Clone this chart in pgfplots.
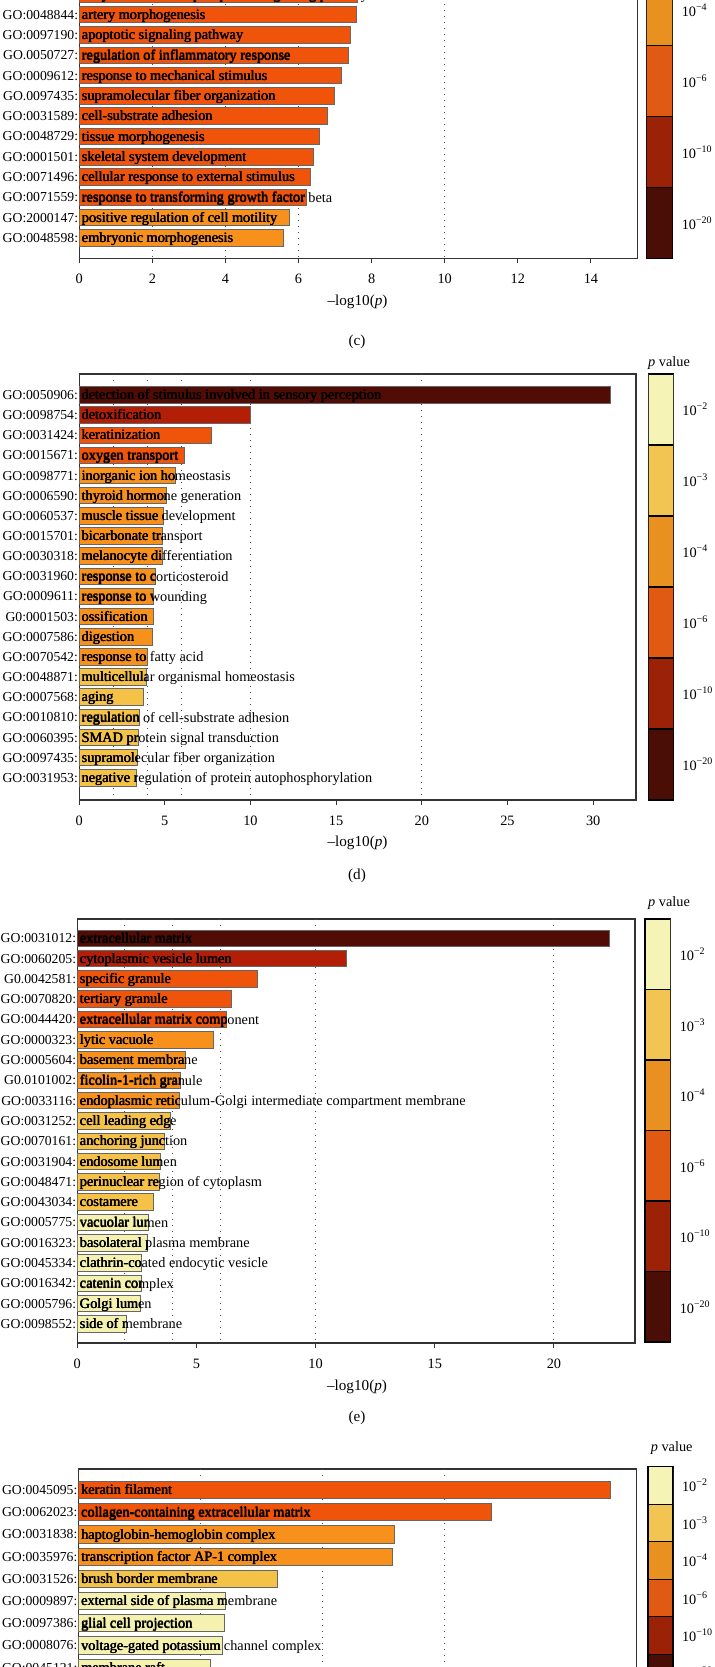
\documentclass[border=0pt]{standalone}
\usepackage{pgfplots}
\pgfplotsset{compat=1.18}
\usepackage{fontspec}
\setmainfont{Liberation Serif}

\definecolor{b20}{RGB}{80,12,5}
\definecolor{b10}{RGB}{178,30,6}
\definecolor{b6}{RGB}{240,84,10}
\definecolor{b4}{RGB}{248,144,28}
\definecolor{b3}{RGB}{245,194,72}
\definecolor{b2}{RGB}{245,242,176}
\definecolor{k20}{RGB}{74,14,6}
\definecolor{k10}{RGB}{155,34,6}
\definecolor{k6}{RGB}{224,90,20}
\definecolor{k4}{RGB}{232,144,32}
\definecolor{k3}{RGB}{242,196,82}
\definecolor{k2}{RGB}{245,243,182}

\newcommand\fs{\fontsize{7.15pt}{8pt}\selectfont}
\newcommand\fsid{\fontsize{6.85pt}{8pt}\selectfont}
\newcommand\fsl{\fontsize{7.6pt}{9pt}\selectfont}

\tikzset{lbl/.style={anchor=base west, inner xsep=1pt, inner ysep=0pt, font=\fs, yshift=-2.35pt}}

\pgfplotsset{
  gobar/.style={
    scale only axis, anchor=south west, y dir=reverse, xmin=0,
    axis line style={draw=black!80, line width=0.55pt},
    tick align=outside, xtick pos=left, major tick length=2.5pt,
    xtick style={draw=black!80, line width=0.5pt},
    ytick style={draw=none},
    tick label style={font=\fs},
    xticklabel style={yshift=-2pt},
    yticklabel style={font=\fsid, inner xsep=0.4pt, xshift=2.5pt},
    /pgf/number format/assume math mode=true,
    extra x tick labels={},
    extra x tick style={grid=major, major tick length=0pt},
    major grid style={dash pattern=on 0.6pt off 2.4pt, draw=black!70, line width=0.5pt},
  },
  gob/.style={xbar, bar width=8.25pt, bar shift=0pt, draw=black!60, line width=0.5pt},
  cbar/.style={
    scale only axis, anchor=south west, xmin=0, xmax=1, ymin=0, ymax=6, y dir=reverse,
    xtick=\empty, ytick={0.5,1.5,2.5,3.5,4.5,5.5},
    yticklabels={10\textsuperscript{−2},10\textsuperscript{−3},10\textsuperscript{−4},10\textsuperscript{−6},10\textsuperscript{−10},10\textsuperscript{−20}},
    yticklabel pos=right, ytick style={draw=none},
    axis line style={draw=black, line width=0.7pt},
    tick label style={font=\fs}, yticklabel style={xshift=1pt},
  },
  seg/.style={draw=black, line width=0.7pt},
}

\newcommand{\cbarsegs}{%
  \addplot[seg, fill=k2] coordinates {(0,0) (1,0) (1,1) (0,1) (0,0)};
  \addplot[seg, fill=k3] coordinates {(0,1) (1,1) (1,2) (0,2) (0,1)};
  \addplot[seg, fill=k4] coordinates {(0,2) (1,2) (1,3) (0,3) (0,2)};
  \addplot[seg, fill=k6] coordinates {(0,3) (1,3) (1,4) (0,4) (0,3)};
  \addplot[seg, fill=k10] coordinates {(0,4) (1,4) (1,5) (0,5) (0,4)};
  \addplot[seg, fill=k20] coordinates {(0,5) (1,5) (1,6) (0,6) (0,5)};
}

\newcommand{\barlabels}[2]{%
  \foreach \idx/\val/\txt in #1 {%
    \pgfmathsetmacro\ya{\idx-#2}%
    \pgfmathsetmacro\yb{\idx+#2}%
    \edef\tmp{\noexpand\node[lbl] at (axis cs:0,\idx) {\txt};%
      \noexpand\pgfplotsextra{\noexpand\begin{scope}%
        \noexpand\clip (axis cs:0,\ya) rectangle (axis cs:\val,\yb);%
        \noexpand\node[lbl,xshift=0.25pt] at (axis cs:0,\idx) {\txt};%
        \noexpand\node[lbl,xshift=0.12pt,yshift=0.1pt] at (axis cs:0,\idx) {\txt};%
      \noexpand\end{scope}}}%
    \tmp
  }%
}

\def\rowsC{-1/7.61/enzyme linked receptor protein signaling pathway,0/7.59/artery morphogenesis,1/7.41/apoptotic signaling pathway,2/7.36/regulation of inflammatory response,3/7.17/response to mechanical stimulus,4/6.98/supramolecular fiber organization,5/6.80/cell-substrate adhesion,6/6.56/tissue morphogenesis,7/6.41/skeletal system development,8/6.33/cellular response to external stimulus,9/6.23/response to transforming growth factor beta,10/5.76/positive regulation of cell motility,11/5.59/embryonic morphogenesis}

\def\rowsD{0/31.0/detection of stimulus involved in sensory perception,1/10.02/detoxification,2/7.72/keratinization,3/6.14/oxygen transport,4/5.64/inorganic ion homeostasis,5/5.11/thyroid hormone generation,6/4.90/muscle tissue development,7/4.86/bicarbonate transport,8/4.84/melanocyte differentiation,9/4.47/response to corticosteroid,10/4.35/response to wounding,11/4.33/ossification,12/4.26/digestion,13/3.98/response to fatty acid,14/3.96/multicellular organismal homeostasis,15/3.77/aging,16/3.50/regulation of cell-substrate adhesion,17/3.44/SMAD protein signal transduction,18/3.41/supramolecular fiber organization,19/3.36/negative regulation of protein autophosphorylation}

\def\rowsE{0/22.33/extracellular matrix,1/11.30/cytoplasmic vesicle lumen,2/7.57/specific granule,3/6.49/tertiary granule,4/6.25/extracellular matrix component,5/5.72/lytic vacuole,6/4.53/basement membrane,7/4.31/ficolin-1-rich granule,8/4.28/endoplasmic reticulum-Golgi intermediate compartment membrane,9/3.90/cell leading edge,10/3.67/anchoring junction,11/3.47/endosome lumen,12/3.44/perinuclear region of cytoplasm,13/3.21/costamere,14/2.98/vacuolar lumen,15/2.94/basolateral plasma membrane,16/2.69/clathrin-coated endocytic vesicle,17/2.69/catenin complex,18/2.64/Golgi lumen,19/2.07/side of membrane}

\def\rowsF{0/8.73/keratin filament,1/6.77/collagen-containing extracellular matrix,2/5.18/haptoglobin-hemoglobin complex,3/5.15/transcription factor AP-1 complex,4/3.27/brush border membrane,5/2.41/external side of plasma membrane,6/2.39/glial cell projection,7/2.37/voltage-gated potassium channel complex,8/2.16/membrane raft}

\begin{document}
\begin{tikzpicture}
\useasboundingbox (0,0) rectangle (357pt,-833.5pt);
\clip (0,0) rectangle (357pt,-833.5pt);

% ---------------- panel (c)
\begin{axis}[gobar, at={(39.65pt,-129.15pt)}, width=279.2pt, height=142.1pt,
  xmax=15.28, ymin=-2, ymax=12, xtick={0,2,...,14}, extra x ticks={2,4,6,10},
  ytick={-1,0,...,11},
  yticklabels={GO:0007167:,GO:0048844:,GO:0097190:,GO.0050727:,GO:0009612:,GO.0097435:,GO:0031589:,GO:0048729:,GO:0001501:,GO:0071496:,GO:0071559:,GO:2000147:,GO:0048598:}]
\addplot[gob, fill=b6] coordinates {(7.61,-1) (7.59,0) (7.41,1) (7.36,2) (7.17,3) (6.98,4) (6.80,5) (6.56,6) (6.41,7) (6.33,8) (6.23,9)};
\addplot[gob, fill=b4] coordinates {(5.76,10) (5.59,11)};
\barlabels{\rowsC}{0.41}
\end{axis}
\begin{axis}[cbar, at={(323.35pt,-129.15pt)}, width=13pt, height=213pt]
\cbarsegs
\end{axis}
\node[font=\fsl] at (178.75pt,-150.85pt) {–log10(\textit{p})};
\node[font=\fsl] at (178.5pt,-171pt) {(c)};

% ---------------- panel (d)
\begin{axis}[gobar, at={(39.55pt,-400pt)}, width=278.45pt, height=213pt,
  xmax=32.5, ymin=-1.04, ymax=20.1, xtick={0,5,...,30}, extra x ticks={2,4,6,10,20},
  ytick={0,...,19},
  yticklabels={GO:0050906:,GO:0098754:,GO:0031424:,GO:0015671:,GO:0098771:,GO:0006590:,GO:0060537:,GO:0015701:,GO:0030318:,GO:0031960:,GO:0009611:,G0:0001503:,GO:0007586:,GO:0070542:,GO:0048871:,GO:0007568:,GO:0010810:,GO:0060395:,GO:0097435:,GO:0031953:}]
\addplot[gob, fill=b20] coordinates {(31.0,0)};
\addplot[gob, fill=b10] coordinates {(10.02,1)};
\addplot[gob, fill=b6] coordinates {(7.72,2) (6.14,3)};
\addplot[gob, fill=b4] coordinates {(5.64,4) (5.11,5) (4.90,6) (4.86,7) (4.84,8) (4.47,9) (4.35,10) (4.33,11) (4.26,12) (3.98,13)};
\addplot[gob, fill=b3] coordinates {(3.96,14) (3.77,15) (3.50,16) (3.44,17) (3.41,18) (3.36,19)};
\barlabels{\rowsD}{0.41}
\end{axis}
\begin{axis}[cbar, at={(324.15pt,-400pt)}, width=12.5pt, height=213pt]
\cbarsegs
\end{axis}
\node[font=\fs] at (334.5pt,-181.5pt) {\textit{p} value};
\node[font=\fsl] at (178.75pt,-421.5pt) {–log10(\textit{p})};
\node[font=\fsl] at (178.5pt,-438pt) {(d)};

% ---------------- panel (e)
\begin{axis}[gobar, at={(38.65pt,-671.5pt)}, width=278.85pt, height=212pt,
  xmax=23.4, ymin=-0.95, ymax=19.94, xtick={0,5,...,20}, extra x ticks={2,4,6,10,20},
  ytick={0,...,19},
  yticklabels={GO:0031012:,GO:0060205:,G0.0042581:,GO:0070820:,GO:0044420:,GO:0000323:,GO:0005604:,G0.0101002:,GO:0033116:,GO:0031252:,GO:0070161:,GO:0031904:,GO:0048471:,GO:0043034:,GO:0005775:,GO:0016323:,GO:0045334:,GO:0016342:,GO:0005796:,GO:0098552:}]
\addplot[gob, fill=b20] coordinates {(22.33,0)};
\addplot[gob, fill=b10] coordinates {(11.30,1)};
\addplot[gob, fill=b6] coordinates {(7.57,2) (6.49,3) (6.25,4)};
\addplot[gob, fill=b4] coordinates {(5.72,5) (4.53,6) (4.31,7) (4.28,8)};
\addplot[gob, fill=b3] coordinates {(3.90,9) (3.67,10) (3.47,11) (3.44,12) (3.21,13)};
\addplot[gob, fill=b2] coordinates {(2.98,14) (2.94,15) (2.69,16) (2.69,17) (2.64,18) (2.07,19)};
\barlabels{\rowsE}{0.41}
\end{axis}
\begin{axis}[cbar, at={(322.5pt,-671pt)}, width=12.85pt, height=211.5pt]
\cbarsegs
\end{axis}
\node[font=\fs] at (334.5pt,-451.65pt) {\textit{p} value};
\node[font=\fsl] at (178.5pt,-693.35pt) {–log10(\textit{p})};
\node[font=\fsl] at (178.5pt,-709.15pt) {(e)};

% ---------------- panel (f)
\begin{axis}[gobar, at={(39.3pt,-845.5pt)}, width=279pt, height=111pt,
  xmax=9.16, ymin=-0.95, ymax=9.05, xtick={0,2,...,8}, extra x ticks={2,4,6},
  ytick={0,...,8},
  yticklabels={GO:0045095:,GO:0062023:,GO:0031838:,GO:0035976:,GO:0031526:,GO:0009897:,GO:0097386:,GO:0008076:,GO:0045121:}]
\addplot[gob, bar width=8.65pt, fill=b6] coordinates {(8.73,0) (6.77,1)};
\addplot[gob, bar width=8.65pt, fill=b4] coordinates {(5.18,2) (5.15,3)};
\addplot[gob, bar width=8.65pt, fill=b3] coordinates {(3.27,4)};
\addplot[gob, bar width=8.65pt, fill=b2] coordinates {(2.41,5) (2.39,6) (2.37,7) (2.16,8)};
\barlabels{\rowsF}{0.39}
\end{axis}
\begin{axis}[cbar, at={(324pt,-845.85pt)}, width=12.5pt, height=112.5pt]
\cbarsegs
\end{axis}
\node[font=\fs] at (335.85pt,-724.15pt) {\textit{p} value};
\end{tikzpicture}
\end{document}
